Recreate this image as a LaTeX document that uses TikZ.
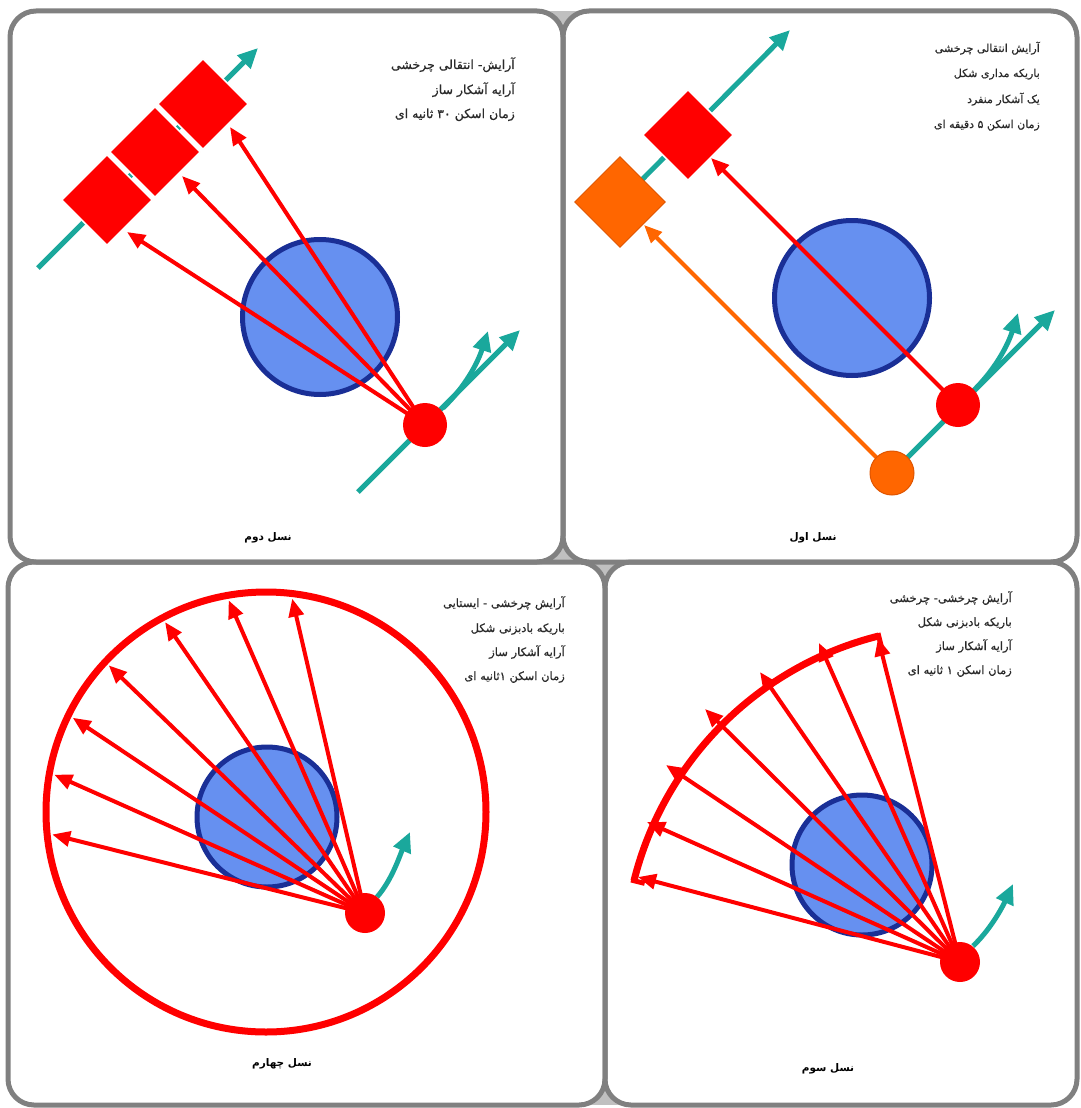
\documentclass[tikz,border=0pt]{standalone}
\usepackage{fontspec}
\usetikzlibrary{arrows.meta,calc}
\newfontfamily\fa[Script=Arabic,FakeBold=0.6]{DejaVu Sans}
\newfontfamily\fabold[Script=Arabic]{DejaVu Sans Bold}
\TeXXeTstate=1
\definecolor{panelgray}{HTML}{808080}
\definecolor{gapgray}{HTML}{C0C0C0}
\definecolor{tealc}{HTML}{1AA89C}
\definecolor{bluefill}{HTML}{6690F0}
\definecolor{blueedge}{HTML}{1A2F96}
\definecolor{redc}{HTML}{FF0000}
\definecolor{orangec}{HTML}{FF6600}
\definecolor{orangeedge}{HTML}{E05500}
\definecolor{txt}{HTML}{2A2A2A}
\begin{document}
\begin{tikzpicture}[x=1pt,y=-1pt,
 panelfill/.style={fill=white, rounded corners=26pt},
 panelline/.style={draw=panelgray, line width=5pt, rounded corners=26pt},
 track/.style={draw=tealc, line width=5pt, -{Triangle[length=20pt,width=18pt]}},
 ray/.style={draw=redc, line width=4pt, -{Triangle[length=18pt,width=15pt]}},
 oray/.style={draw=orangec, line width=4pt, -{Triangle[length=18pt,width=15pt]}},
 body/.style={circle, fill=bluefill, draw=blueedge, line width=5pt, inner sep=0pt},
 src/.style={circle, fill=redc, inner sep=0pt, minimum size=44pt},
 osrc/.style={circle, fill=orangec, draw=orangeedge, line width=1pt, inner sep=0pt, minimum size=44pt},
 det/.style={rectangle, fill=redc, draw=white, line width=1.5pt, minimum size=64pt, inner sep=0pt, rotate=45},
 odet/.style={rectangle, fill=orangec, draw=orangeedge, line width=1pt, minimum size=64pt, inner sep=0pt, rotate=45},
 info/.style={anchor=base east, text=txt, font=\fa\fontsize{#1}{14}\selectfont, inner sep=0pt},
 info/.default=11.5,
 gen/.style={anchor=base, text=black, font=\fabold\fontsize{10.5}{12}\selectfont, inner sep=0pt},
]
\useasboundingbox (0,0) rectangle (1080,1108);
% junction gaps
\fill[gapgray] (545,11) rectangle (581,45);
\fill[gapgray] (540,530) rectangle (630,595);
\fill[gapgray] (585,1075) rectangle (625,1105);
% panels
\fill[panelfill] (10,11) rectangle (563,562);
\fill[panelfill] (563,11) rectangle (1077,562);
\fill[panelfill] (8,562) rectangle (605,1105);
\fill[panelfill] (605,562) rectangle (1077,1105);
\draw[panelline] (10,11) rectangle (563,562);
\draw[panelline] (563,11) rectangle (1077,562);
\draw[panelline] (8,562) rectangle (605,1105);
\draw[panelline] (605,562) rectangle (1077,1105);

% ================= top-left: second generation
\coordinate (tlA) at (38,268);
\coordinate (tlB) at (258,48);
\draw[track] (tlA) -- (tlB);
\node[det] (tld1) at (107,200) {};
\node[det] (tld2) at (155,152) {};
\node[det] (tld3) at (203,104) {};
\node[body, minimum size=155pt] (tlbody) at (320,317) {};
\coordinate (tlS) at (425,425);
\coordinate (tlC) at (358,492);
\coordinate (tlD) at (520,330);
\coordinate (tlE) at (443,408);
\coordinate (tlF) at (488,331);
\draw[track] (tlC) -- (tlD);
\draw[track] (tlE) .. controls (466,386) and (478,362) .. (tlF);
\coordinate (tlt1) at (127,232);
\coordinate (tlt2) at (182,176);
\coordinate (tlt3) at (230,127);
\draw[ray] (tlS) -- (tlt1);
\draw[ray] (tlS) -- (tlt2);
\draw[ray] (tlS) -- (tlt3);
\node[src] (tlsrc) at (tlS) {};
\node[info=12.5] (tl1) at (515,69) {\beginR آرایش- انتقالی چرخشی\endR};
\node[info=12.5] (tl2) at (515,94) {\beginR آرایه آشکار ساز\endR};
\node[info=12.5] (tl3) at (515,118) {\beginR زمان اسکن \beginL۳۰\endL{} ثانیه ای\endR};
\node[gen] (tlg) at (268,540) {\beginR نسل دوم\endR};

% ================= top-right: first generation
\coordinate (trA) at (620,202);
\coordinate (trB) at (790,30);
\draw[track] (trA) -- (trB);
\node[det] (trd) at (688,135) {};
\node[odet] (tro) at (620,202) {};
\node[body, minimum size=155pt] (trbody) at (852,298) {};
\coordinate (trS) at (958,405);
\coordinate (trO) at (892,473);
\coordinate (trD) at (1055,310);
\coordinate (trE) at (972,392);
\coordinate (trF) at (1018,313);
\draw[track] (trO) -- (trD);
\draw[track] (trE) .. controls (995,370) and (1008,345) .. (trF);
\coordinate (trt1) at (711,158);
\coordinate (trt2) at (644,225);
\draw[ray] (trS) -- (trt1);
\draw[oray] (trO) -- (trt2);
\node[src] (trsrc) at (trS) {};
\node[osrc] (trosrc) at (trO) {};
\node[info=11] (tr1) at (1040,52) {\beginR آرایش انتقالی چرخشی\endR};
\node[info=11] (tr2) at (1040,77) {\beginR باریکه مداری شکل\endR};
\node[info=11] (tr3) at (1040,103) {\beginR یک آشکار منفرد\endR};
\node[info=11] (tr4) at (1040,128) {\beginR زمان اسکن ۵ دقیقه ای\endR};
\node[gen] (trg) at (813,540) {\beginR نسل اول\endR};

% ================= bottom-left: fourth generation
\coordinate (blC) at (266,812);
\draw[redc, line width=7pt] (blC) circle[radius=220];
\node[body, minimum size=140pt] (blbody) at (267,817) {};
\coordinate (blS) at (365,913);
\coordinate (blE) at (377,897);
\coordinate (blF) at (410,832);
\draw[track] (blE) .. controls (392,880) and (400,855) .. (blF);
\coordinate (blt1) at ($(blC)+(174:215)$);
\coordinate (blt2) at ($(blC)+(190:215)$);
\coordinate (blt3) at ($(blC)+(206:215)$);
\coordinate (blt4) at ($(blC)+(223:215)$);
\coordinate (blt5) at ($(blC)+(242:215)$);
\coordinate (blt6) at ($(blC)+(260:215)$);
\coordinate (blt7) at ($(blC)+(277:215)$);
\draw[ray] (blS) -- (blt1);
\draw[ray] (blS) -- (blt2);
\draw[ray] (blS) -- (blt3);
\draw[ray] (blS) -- (blt4);
\draw[ray] (blS) -- (blt5);
\draw[ray] (blS) -- (blt6);
\draw[ray] (blS) -- (blt7);
\node[src, minimum size=40pt] (blsrc) at (blS) {};
\node[info] (bl1) at (565,607) {\beginR آرایش چرخشی - ایستایی\endR};
\node[info] (bl2) at (565,632) {\beginR باریکه بادبزنی شکل\endR};
\node[info] (bl3) at (565,656) {\beginR آرایه آشکار ساز\endR};
\node[info] (bl4) at (565,680) {\beginR زمان اسکن ۱ثانیه ای\endR};
\node[gen] (blg) at (282,1066) {\beginR نسل چهارم\endR};

% ================= bottom-right: third generation
\coordinate (brS) at (960,962);
\draw[redc, line width=7pt] (brS) ++(194:336) coordinate (arcA) arc[start angle=194, end angle=256, radius=336] coordinate (arcB);
\draw[redc, line width=5pt] (brS) ++(194:339) -- ++(14:14);
\draw[redc, line width=5pt] (brS) ++(256:339) -- ++(76:14);
\node[body, minimum size=140pt] (brbody) at (862,865) {};
\coordinate (brE) at (973,946);
\coordinate (brF) at (1013,884);
\draw[track] (brE) .. controls (990,930) and (1002,908) .. (brF);
\coordinate (brt1) at (638,877);
\coordinate (brt2) at (647,822);
\coordinate (brt3) at (666,765);
\coordinate (brt4) at (705,709);
\coordinate (brt5) at (760,672);
\coordinate (brt6) at (819,643);
\coordinate (brt7) at (878,638);
\draw[ray] (brS) -- (brt1);
\draw[ray] (brS) -- (brt2);
\draw[ray] (brS) -- (brt3);
\draw[ray] (brS) -- (brt4);
\draw[ray] (brS) -- (brt5);
\draw[ray] (brS) -- (brt6);
\draw[ray] (brS) -- (brt7);
\node[src, minimum size=40pt] (brsrc) at (brS) {};
\node[info] (br1) at (1012,602) {\beginR آرایش چرخشی- چرخشی\endR};
\node[info] (br2) at (1012,626) {\beginR باریکه بادبزنی شکل\endR};
\node[info] (br3) at (1012,650) {\beginR آرایه آشکار ساز\endR};
\node[info] (br4) at (1012,674) {\beginR زمان اسکن ۱ ثانیه ای\endR};
\node[gen] (brg) at (828,1071) {\beginR نسل سوم\endR};
\end{tikzpicture}
\end{document}
